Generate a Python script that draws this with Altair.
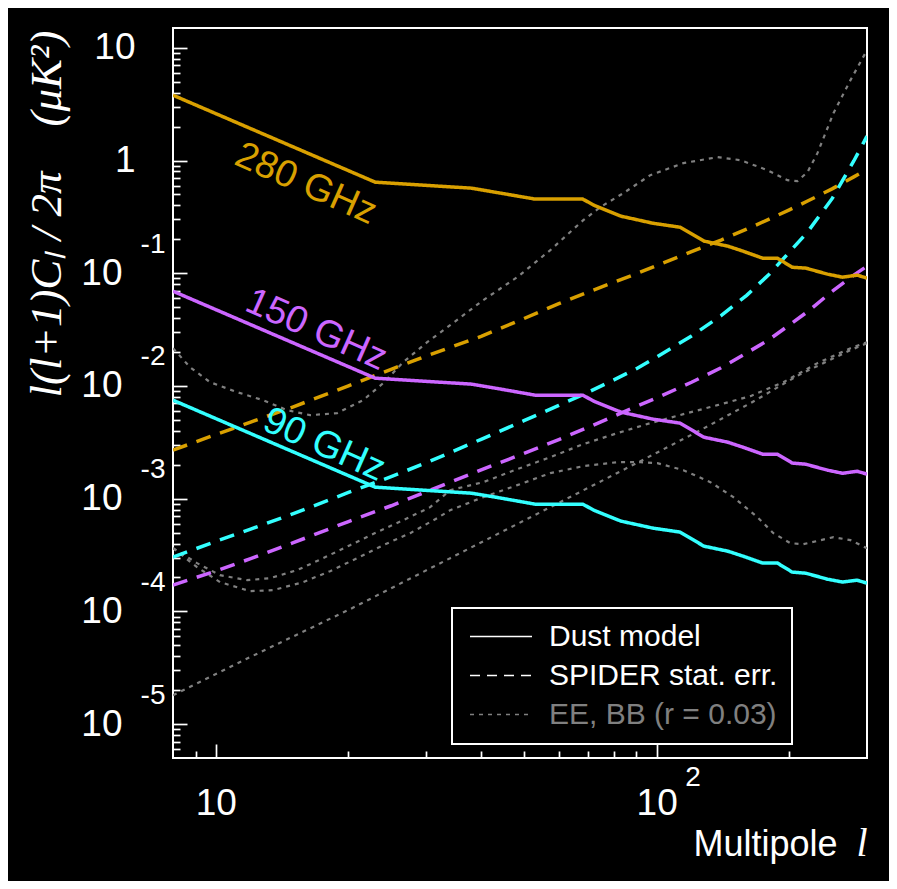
import altair as alt
import pandas as pd

# ---------------- values ----------------
# Dust model (solid lines)
DUST_L = [8, 23, 38, 43, 53, 68, 72, 83, 98, 113, 128, 145, 157, 174, 188, 203, 218, 244, 264, 285, 300]
DUST_280 = [3.80, 0.643, 0.569, 0.524, 0.455, 0.455, 0.402, 0.321, 0.278, 0.256, 0.193, 0.174, 0.157,
            0.136, 0.136, 0.113, 0.111, 0.0982, 0.0923, 0.0962, 0.0905]
DUST_150 = [0.0693, 0.01172, 0.01038, 0.00957, 0.00829, 0.00829, 0.00733, 0.00586, 0.00508, 0.00468,
            0.00351, 0.00317, 0.00286, 0.00248, 0.00248, 0.00207, 0.00202, 0.00179, 0.00168, 0.00175, 0.00165]
DUST_90 = [0.00748, 0.001265, 0.001119, 0.001033, 0.000894, 0.000894, 0.000791, 0.000632, 0.000548,
           0.000505, 0.000379, 0.000342, 0.000309, 0.000268, 0.000268, 0.000223, 0.000218, 0.000193,
           0.000182, 0.000189, 0.000178]

# SPIDER statistical error (dashed lines)
SPIDER_L = [8, 10, 12, 15, 20, 25, 30, 40, 50, 60, 70, 80, 90, 100, 120, 140, 160, 180, 200, 220, 250, 280, 300]
SPIDER_280 = [0.002694, 0.003705, 0.004773, 0.006536, 0.01002, 0.01406, 0.01842, 0.02755, 0.03963, 0.05374,
              0.06811, 0.08322, 0.09917, 0.1170, 0.1558, 0.1971, 0.2462, 0.3020, 0.3652, 0.4372, 0.5609,
              0.7166, 0.8337]
SPIDER_150 = [0.0001708, 0.0002283, 0.0002935, 0.0004070, 0.0006263, 0.0008650, 0.001151, 0.001805,
              0.002518, 0.003345, 0.004300, 0.005403, 0.006592, 0.007824, 0.01078, 0.01451, 0.01963,
              0.02580, 0.03477, 0.04563, 0.06909, 0.09618, 0.1156]
SPIDER_90 = [0.0003027, 0.0004180, 0.0005363, 0.0007359, 0.001135, 0.001568, 0.002078, 0.003365, 0.004921,
             0.006727, 0.008810, 0.01133, 0.01424, 0.01801, 0.02778, 0.04205, 0.06366, 0.09797, 0.1539,
             0.2325, 0.4590, 0.9919, 1.646]

# EE and BB (r = 0.03) theory spectra (dotted grey)
EE_L = [8.0, 8.74, 9.71, 11.18, 12.80, 14.52, 16.37, 18.85, 21.60, 23.97, 26.62, 30.17, 34.02, 40.43,
        48.30, 57.39, 68.18, 74.50, 84.03, 96.75, 114.98, 137.33, 154.87, 178.36, 197.99, 208.6, 219.8,
        231.6, 251.8, 275.2, 300]
EE_V = [0.02164, 0.01468, 0.01080, 0.008810, 0.007482, 0.006099, 0.005507, 0.005737, 0.007482, 0.01058,
        0.01626, 0.02446, 0.03463, 0.05772, 0.09235, 0.1603, 0.2959, 0.3859, 0.5137, 0.7420, 0.9482,
        1.072, 1.008, 0.8219, 0.6701, 0.6566, 0.7889, 1.163, 2.634, 5.170, 9.541]
BBT_L = [8.0, 9.07, 10.23, 11.78, 13.28, 15.29, 17.52, 20.17, 23.23, 26.62, 30.65, 34.02, 40.43, 48.30,
         57.39, 68.18, 81.43, 96.75, 114.98, 137.33, 163.2, 193.9, 231.6, 275.2, 300]
BBT_V = [0.0003638, 0.0002678, 0.0002095, 0.0001891, 0.0001970, 0.0002320, 0.0002965, 0.0003867,
         0.0005045, 0.0006445, 0.0008405, 0.001189, 0.001401, 0.001827, 0.002335, 0.003046, 0.003813,
         0.004676, 0.005621, 0.006754, 0.008118, 0.01080, 0.01594, 0.02164, 0.02446]
BBP_L = [8.0, 9.07, 10.23, 11.96, 13.49, 15.78, 18.17, 20.93, 23.97, 27.61, 31.79, 34.02, 40.43, 48.30,
         57.39, 68.18, 81.43, 91.85, 100.4, 114.98, 132.4, 149.3, 169.3, 184.0, 201.1, 215.3, 251.8,
         275.2, 300]
BBP_V = [0.0003638, 0.0002467, 0.0001816, 0.0001511, 0.0001542, 0.0001816, 0.0002273, 0.0002965,
         0.0003867, 0.0004943, 0.0006714, 0.0007907, 0.001031, 0.001318, 0.001684, 0.001943, 0.002108,
         0.002108, 0.002065, 0.001790, 0.001401, 0.001031, 0.0006852, 0.0004943, 0.0004028, 0.0003948,
         0.0004554, 0.0004282, 0.0003638]
LENS_L = [8, 11.96, 20.17, 34.02, 57.39, 91.85, 125.7, 163.2, 211.9, 275.2, 300]
LENS_V = [1.805e-5, 3.923e-5, 1.046e-4, 2.965e-4, 8.405e-4, 0.002151, 0.004053, 0.007037, 0.01273,
          0.02078, 0.02397]

# In-plot band labels
LABEL_TEXT = ["280 GHz", "150 GHz", "90 GHz"]
LABEL_GROUP = ["280", "150", "90"]
LABEL_L = [16.0, 16.9, 17.6]
LABEL_V = [0.617, 0.0313, 0.00298]

GROUPS = ["280", "150", "90", "theory"]
COLORS = ["#D9A000", "#CC66FF", "#33FFFF", "#808080"]
STYLES = ["Dust model", "SPIDER stat. err.", "EE, BB (r = 0.03)"]

# axis tick positions
X_MAJOR = [10, 100]
X_MINOR = [9, 20, 30, 40, 50, 60, 70, 80, 90, 200]
Y_MAJOR = [1e-5, 1e-4, 1e-3, 1e-2, 1e-1, 1, 10]
Y_NEG = [1e-5, 1e-4, 1e-3, 1e-2, 1e-1]
Y_POS = [1, 10]
Y_MINOR = [m * 10.0 ** k for k in range(-6, 2) for m in range(2, 10) if 5.5e-6 < m * 10.0 ** k < 15]

YTITLE = "l(l+1)C\u2097 / 2\u03c0\u00a0\u00a0\u00a0\u00a0(\u03bcK\u00b2)"


# ---------------- tables ----------------
def rows(ls, vs, group, style, series):
    return [dict(l=a, v=b, group=group, style=style, series=series) for a, b in zip(ls, vs)]


dust = pd.DataFrame(rows(DUST_L, DUST_280, "280", STYLES[0], "d280")
                    + rows(DUST_L, DUST_150, "150", STYLES[0], "d150")
                    + rows(DUST_L, DUST_90, "90", STYLES[0], "d90"))
spider = pd.DataFrame(rows(SPIDER_L, SPIDER_280, "280", STYLES[1], "s280")
                      + rows(SPIDER_L, SPIDER_150, "150", STYLES[1], "s150")
                      + rows(SPIDER_L, SPIDER_90, "90", STYLES[1], "s90"))
theory_ee = pd.DataFrame(rows(EE_L, EE_V, "theory", STYLES[2], "ee"))
theory_bb = pd.DataFrame(rows(BBT_L, BBT_V, "theory", STYLES[2], "bbt")
                         + rows(BBP_L, BBP_V, "theory", STYLES[2], "bbp")
                         + rows(LENS_L, LENS_V, "theory", STYLES[2], "lens"))
labels = pd.DataFrame(dict(l=LABEL_L, v=LABEL_V, group=LABEL_GROUP, text=LABEL_TEXT))

# ---------------- scales / legend ----------------
xs = alt.Scale(type="log", domain=[8, 300], nice=False)
ys = alt.Scale(type="log", domain=[5e-6, 15], nice=False)
color_scale = alt.Scale(domain=GROUPS, range=COLORS)
# dash patterns as they appear in the legend box
dash_scale = alt.Scale(domain=STYLES, range=[[1, 0], [10, 7], [4, 5]])

GREY_IF = "datum.value === 'EE, BB (r = 0.03)' ? '#808080' : '#ffffff'"
legend = alt.Legend(
    title=None, orient="none", legendX=279, legendY=580,
    symbolType="stroke", symbolSize=3844, symbolStrokeWidth=1.5,
    symbolStrokeColor={"expr": GREY_IF},
    symbolOffset=3, labelOffset=16, labelFont="Liberation Sans", labelFontSize=30,
    labelColor={"expr": GREY_IF}, labelLimit=600, padding=14, rowPadding=8, clipHeight=29,
    fillColor="black", strokeColor="white",
)

# ---------------- axes ----------------
ax_x_major = alt.Axis(orient="bottom", values=X_MAJOR, tickSize=14, offset=-14, labels=False, title=None)
ax_x_minor = alt.Axis(orient="bottom", values=X_MINOR, tickSize=7, offset=-7, labels=False, title=None)
ax_x_lab = alt.Axis(orient="bottom", values=X_MAJOR, ticks=False, tickSize=0, labelExpr="'10'",
                    labelFontSize=37, labelPadding=45, labelBaseline="middle", labelAlign="center",
                    title="Multipole", titleX=664, titleY=97, titleAlign="right",
                    titleBaseline="alphabetic", titleFont="Liberation Sans", titleFontSize=36,
                    titleFontWeight="normal")
ax_x_exp = alt.Axis(orient="bottom", values=[100], ticks=False, tickSize=0, labelExpr="'2'",
                    labelFontSize=28, labelPadding=19, labelBaseline="middle", labelAlign="left",
                    labelOffset=28, title="l", titleX=694, titleY=97, titleAlign="right",
                    titleBaseline="alphabetic", titleFont="Liberation Serif", titleFontStyle="italic",
                    titleFontSize=40, titleFontWeight="normal")

ax_y_major = alt.Axis(orient="left", values=Y_MAJOR, tickSize=14, offset=-14, labels=False, title=None)
ax_y_minor = alt.Axis(orient="left", values=Y_MINOR, tickSize=7, offset=-7, labels=False, title=None)
ax_y_pos = alt.Axis(orient="left", values=Y_POS, ticks=False, tickSize=0,
                    labelExpr="datum.value == 1 ? '1' : '10'", labelFontSize=37, labelPadding=38,
                    labelAlign="right", labelBaseline="middle",
                    title=YTITLE, titleX=-127, titleY=2, titleAngle=270, titleAlign="right",
                    titleBaseline="middle", titleFont="Liberation Serif", titleFontStyle="italic",
                    titleFontSize=45, titleFontWeight="normal")
ax_y_neg = alt.Axis(orient="left", values=Y_NEG, ticks=False, tickSize=0, labelExpr="'10'",
                    labelFontSize=37, labelPadding=51, labelAlign="right", labelBaseline="middle",
                    title=None)
ax_y_exp = alt.Axis(orient="left", values=Y_NEG, ticks=False, tickSize=0,
                    labelExpr="'' + round(log(datum.value) / LN10)", labelFontSize=28, labelPadding=8,
                    labelOffset=-29, labelAlign="right", labelBaseline="middle", title=None)


def enc(ax_x, ax_y):
    return dict(
        x=alt.X("l:Q", scale=xs, axis=ax_x),
        y=alt.Y("v:Q", scale=ys, axis=ax_y),
    )


def line_layer(df, width, ax_x, ax_y, dash=None):
    base = dict(**enc(ax_x, ax_y),
                color=alt.Color("group:N", scale=color_scale, legend=None),
                detail="series:N")
    if dash is None:
        return alt.Chart(df).mark_line(strokeWidth=width, clip=True).encode(
            strokeDash=alt.StrokeDash("style:N", scale=dash_scale, legend=legend), **base)
    # the plotted SPIDER curves use longer dashes than the legend sample
    return alt.Chart(df).mark_line(strokeWidth=width, clip=True, strokeDash=dash).encode(**base)


bb_layer = line_layer(theory_bb, 2.2, ax_x_minor, ax_y_minor)
ee_layer = line_layer(theory_ee, 2.2, None, ax_y_pos)
spider_layer = line_layer(spider, 3.5, ax_x_lab, ax_y_neg, dash=[15, 10])
dust_layer = line_layer(dust, 3.5, ax_x_major, ax_y_major)
text_layer = alt.Chart(labels).mark_text(angle=24, fontSize=38, font="Liberation Sans",
                                         align="center", baseline="middle").encode(
    **enc(ax_x_exp, ax_y_exp),
    text="text:N",
    color=alt.Color("group:N", scale=color_scale, legend=None),
)

chart = (
    alt.layer(bb_layer, ee_layer, spider_layer, dust_layer, text_layer)
    .resolve_axis(x="independent", y="independent")
    .properties(width=694, height=730, background="black",
                padding={"left": 165, "top": 20, "right": 22, "bottom": 123},
                autosize=alt.AutoSizeParams(type="none"))
    .configure_view(stroke="white", strokeWidth=2)
    .configure_axis(domain=False, grid=False, tickColor="white", tickWidth=1.7,
                    labelColor="white", titleColor="white", labelFont="Liberation Sans")
    .configure_legend(strokeWidth=2)
)

chart.save("out.html", embed_options={"renderer": "svg", "actions": False})
